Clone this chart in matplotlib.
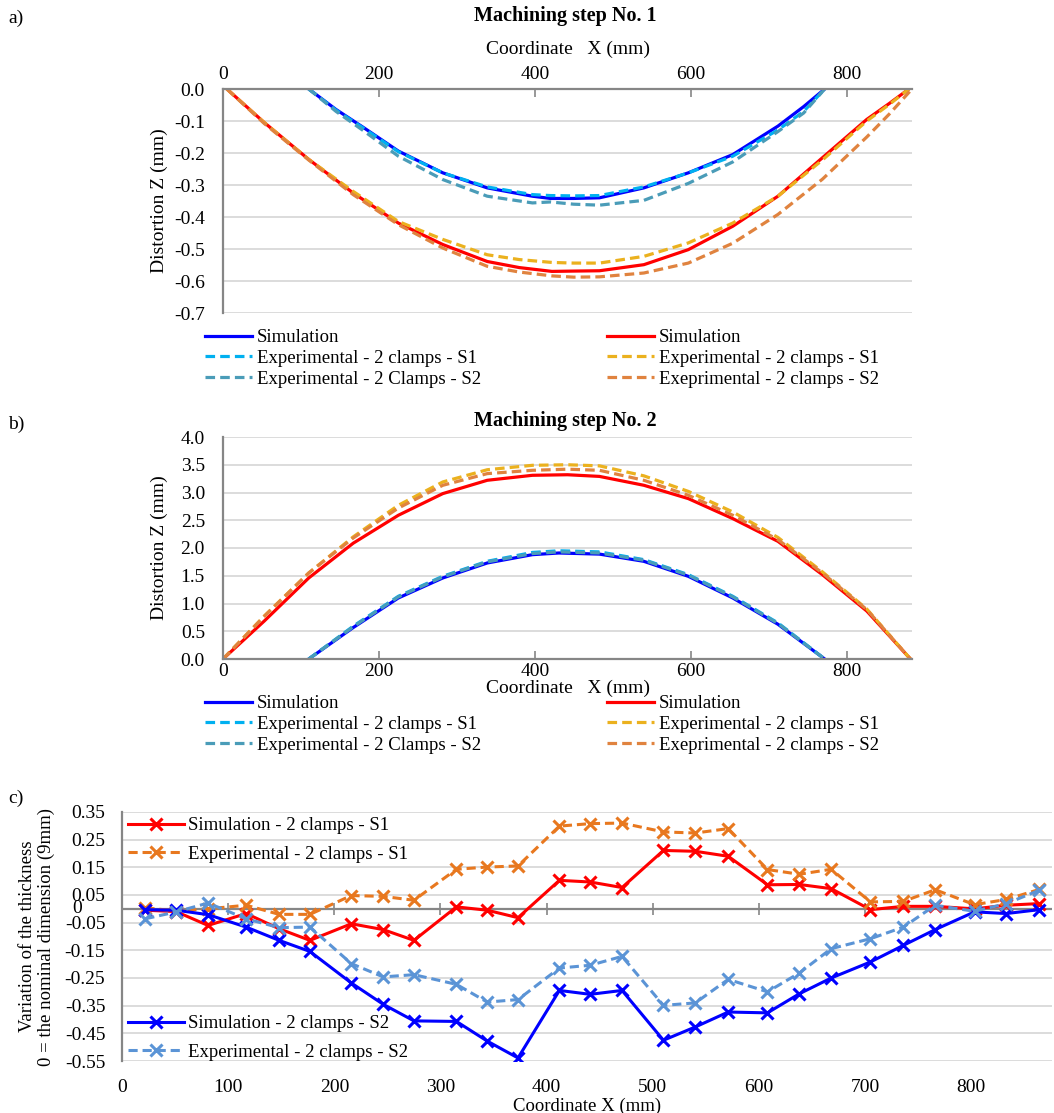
import numpy as np
import matplotlib
matplotlib.use("Agg")
import matplotlib.pyplot as plt

plt.rcParams['font.family'] = ['Liberation Serif', 'DejaVu Serif']
plt.rcParams['axes.unicode_minus'] = False

# ---------------- panel a : machining step 1 ----------------
a_x_blue = [110, 145, 180, 225, 282, 339, 397, 420, 450, 483, 540, 597, 654, 712, 745, 772]
a_sim_blue = [0, -0.064, -0.12, -0.194, -0.262, -0.309, -0.335, -0.342, -0.342, -0.340, -0.309, -0.262, -0.205, -0.116, -0.055, 0]
a_exp1_blue = [0, -0.066, -0.122, -0.196, -0.262, -0.306, -0.330, -0.333, -0.334, -0.333, -0.306, -0.262, -0.21, -0.128, -0.07, 0]
a_exp2_blue = [0, -0.07, -0.13, -0.21, -0.283, -0.335, -0.356, -0.353, -0.36, -0.363, -0.348, -0.295, -0.228, -0.133, -0.075, 0]

a_x_red = [5, 53, 110, 167, 225, 282, 339, 380, 422, 450, 483, 540, 597, 654, 712, 769, 826, 855, 880]
a_sim_red = [0, -0.105, -0.22, -0.325, -0.419, -0.486, -0.539, -0.558, -0.570, -0.569, -0.568, -0.549, -0.502, -0.429, -0.335, -0.215, -0.095, -0.045, 0]
a_exp1_red = [0, -0.105, -0.22, -0.32, -0.414, -0.47, -0.518, -0.533, -0.542, -0.544, -0.544, -0.523, -0.481, -0.419, -0.335, -0.222, -0.1, -0.048, 0]
a_x_exp2_red = [5, 53, 110, 167, 225, 282, 339, 380, 422, 450, 483, 540, 597, 654, 712, 769, 826, 855, 884]
a_exp2_red = [0, -0.108, -0.222, -0.33, -0.424, -0.497, -0.554, -0.572, -0.584, -0.588, -0.587, -0.575, -0.544, -0.482, -0.392, -0.282, -0.15, -0.078, 0]

# ---------------- panel b : machining step 2 ----------------
b_x_blue = [110, 167, 225, 282, 339, 397, 431, 483, 540, 597, 654, 712, 772]
b_sim_blue = [0, 0.566, 1.10, 1.46, 1.73, 1.88, 1.91, 1.89, 1.76, 1.49, 1.10, 0.626, 0]
b_exp1_blue = [0, 0.59, 1.13, 1.49, 1.76, 1.92, 1.95, 1.93, 1.79, 1.52, 1.13, 0.65, 0]
b_exp2_blue = [0, 0.58, 1.12, 1.48, 1.75, 1.90, 1.93, 1.91, 1.78, 1.51, 1.12, 0.64, 0]

b_x_red = [0, 53, 110, 167, 225, 282, 339, 397, 442, 483, 540, 597, 654, 712, 769, 826, 882]
b_sim_red = [0, 0.685, 1.46, 2.086, 2.59, 2.98, 3.22, 3.31, 3.32, 3.29, 3.13, 2.89, 2.53, 2.12, 1.52, 0.864, 0]
b_exp1_red = [0, 0.775, 1.55, 2.2, 2.77, 3.19, 3.41, 3.49, 3.50, 3.48, 3.30, 3.02, 2.65, 2.19, 1.57, 0.9, 0]
b_exp2_red = [0, 0.77, 1.55, 2.18, 2.72, 3.13, 3.34, 3.40, 3.42, 3.40, 3.22, 2.95, 2.59, 2.15, 1.55, 0.89, 0]

labels_blue = ['Simulation', 'Experimental - 2 clamps - S1', 'Experimental - 2 Clamps - S2']
labels_red = ['Simulation', 'Experimental - 2 clamps - S1', 'Exeprimental - 2 clamps - S2']

# ---------------- panel c : thickness ----------------
c_x = [22, 51, 81, 117, 148, 177, 216, 246, 275, 315, 344, 373, 412, 441, 471,
       510, 540, 571, 608, 638, 668, 705, 736, 766, 803, 833, 864]
c_sim_s1 = [-0.005, -0.01, -0.06, -0.017, -0.072, -0.114, -0.054, -0.075, -0.114, 0.007, -0.005, -0.032, 0.103,
            0.097, 0.077, 0.211, 0.208, 0.19, 0.087, 0.088, 0.073, -0.003, 0.009, 0.009, 0.0, 0.013, 0.019]
c_exp_s1 = [0.004, -0.008, 0.0, 0.013, -0.02, -0.02, 0.048, 0.045, 0.031, 0.143, 0.151, 0.155, 0.299,
            0.308, 0.31, 0.278, 0.274, 0.29, 0.142, 0.125, 0.143, 0.025, 0.027, 0.069, 0.015, 0.034, 0.07]
c_sim_s2 = [-0.003, -0.005, -0.021, -0.066, -0.114, -0.154, -0.268, -0.345, -0.405, -0.407, -0.478, -0.539, -0.295,
            -0.309, -0.295, -0.475, -0.427, -0.373, -0.376, -0.307, -0.25, -0.192, -0.132, -0.075, -0.011, -0.017, -0.003]
c_exp_s2 = [-0.036, -0.011, 0.021, -0.036, -0.068, -0.066, -0.198, -0.246, -0.238, -0.273, -0.337, -0.328, -0.214,
            -0.204, -0.172, -0.349, -0.34, -0.255, -0.3, -0.232, -0.144, -0.108, -0.066, 0.013, -0.009, 0.019, 0.067]
c_labels = ['Simulation - 2 clamps - S1', 'Experimental - 2 clamps - S1',
            'Simulation - 2 clamps - S2', 'Experimental - 2 clamps - S2']

W, H = 1054, 1113
fig = plt.figure(figsize=(W / 100, H / 100), dpi=100)

def box(l, t, r, b):
    return [l / W, 1 - b / H, (r - l) / W, (b - t) / H]

axis_col = '#868686'
grid_col = '#D9D9D9'
fs = 14
fsl = 13.5
dash = (0, (3, 1.6))

def style_ab(ax, top):
    for s in ax.spines.values():
        s.set_visible(False)
    side = 'top' if top else 'bottom'
    ax.spines['left'].set_visible(True)
    ax.spines[side].set_visible(True)
    ax.spines['left'].set_color(axis_col)
    ax.spines[side].set_color(axis_col)
    ax.spines['left'].set_linewidth(1.6)
    ax.spines[side].set_linewidth(1.6)
    ax.yaxis.grid(True, color=grid_col, linewidth=1.3)
    ax.set_axisbelow(True)
    ax.tick_params(axis='y', length=0, labelsize=fs, pad=13)
    if top:
        ax.xaxis.tick_top()
        ax.xaxis.set_label_position('top')
    ax.tick_params(axis='x', direction='in', length=6, width=1.2, color=axis_col,
                   labelsize=fs, pad=4 if top else 3)
    ax.set_xticks([0, 200, 400, 600, 800])
    ax.set_xlim(0, 884)
    ax.yaxis.set_label_coords(-0.08, 0.5)

# panel a
ax1 = fig.add_axes(box(223, 89, 912, 313))
style_ab(ax1, True)
ha = []
ha += ax1.plot(a_x_blue, a_sim_blue, color='#0000FF', lw=2.3)
ha += ax1.plot(a_x_blue, a_exp1_blue, color='#00B0F0', lw=2.3, ls=dash)
ha += ax1.plot(a_x_blue, a_exp2_blue, color='#4A9CB8', lw=2.3, ls=dash)
hb = []
hb += ax1.plot(a_x_red, a_sim_red, color='#FF0000', lw=2.3)
hb += ax1.plot(a_x_red, a_exp1_red, color='#EBB11E', lw=2.3, ls=dash)
hb += ax1.plot(a_x_exp2_red, a_exp2_red, color='#E0833F', lw=2.3, ls=dash)
ax1.set_ylim(-0.7, 0.0)
ax1.set_yticks(np.arange(-0.7, 0.01, 0.1))
ax1.set_yticklabels(['%.1f' % v if abs(v) > 1e-9 else '0.0' for v in np.arange(-0.7, 0.01, 0.1)])
ax1.set_ylabel('Distortion Z (mm)', fontsize=fs)
ax1.set_xlabel('Coordinate   X (mm)', fontsize=fs, labelpad=9)
fig.text(565 / W, 1 - 16 / H, 'Machining step No. 1', fontsize=14.5, fontweight='bold',
         ha='center', va='center')

leg_kw = dict(frameon=False, fontsize=fsl, handlelength=2.5, handletextpad=0.25,
              labelspacing=0.2, borderaxespad=0, borderpad=0)
fig.legend(ha, labels_blue, loc='upper left', bbox_to_anchor=(205 / W, 1 - 329 / H), **leg_kw)
fig.legend(hb, labels_red, loc='upper left', bbox_to_anchor=(607 / W, 1 - 329 / H), **leg_kw)

# panel b
ax2 = fig.add_axes(box(223, 437, 912, 659))
style_ab(ax2, False)
ha = []
ha += ax2.plot(b_x_blue, b_sim_blue, color='#0000FF', lw=2.3)
ha += ax2.plot(b_x_blue, b_exp1_blue, color='#00B0F0', lw=2.3, ls=dash)
ha += ax2.plot(b_x_blue, b_exp2_blue, color='#4A9CB8', lw=2.3, ls=dash)
hb = []
hb += ax2.plot(b_x_red, b_sim_red, color='#FF0000', lw=2.3)
hb += ax2.plot(b_x_red, b_exp1_red, color='#EBB11E', lw=2.3, ls=dash)
hb += ax2.plot(b_x_red, b_exp2_red, color='#E0833F', lw=2.3, ls=dash)
ax2.set_ylim(0, 4.0)
ax2.set_yticks(np.arange(0, 4.01, 0.5))
ax2.set_yticklabels(['%.1f' % v for v in np.arange(0, 4.01, 0.5)])
ax2.set_ylabel('Distortion Z (mm)', fontsize=fs)
ax2.set_xlabel('Coordinate   X (mm)', fontsize=fs, labelpad=0)
fig.text(565 / W, 1 - 421 / H, 'Machining step No. 2', fontsize=14.5, fontweight='bold',
         ha='center', va='center')
fig.legend(ha, labels_blue, loc='upper left', bbox_to_anchor=(205 / W, 1 - 695 / H), **leg_kw)
fig.legend(hb, labels_red, loc='upper left', bbox_to_anchor=(607 / W, 1 - 695 / H), **leg_kw)

# panel c
ax3 = fig.add_axes(box(122, 812, 1052, 1061))
for s in ax3.spines.values():
    s.set_visible(False)
ax3.spines['left'].set_visible(True)
ax3.spines['left'].set_color(axis_col)
ax3.spines['left'].set_linewidth(1.6)
ax3.set_xlim(0, 876)
ax3.set_ylim(-0.55, 0.35)
yt = list(np.round(np.arange(-0.55, 0.351, 0.1), 2))
ax3.set_yticks(yt)
ax3.set_yticklabels(['%.2f' % v for v in yt])
ax3.text(-40 / 930, 0, '0', transform=ax3.get_yaxis_transform(), fontsize=fs,
         ha='right', va='center')
ax3.yaxis.grid(True, color=grid_col, linewidth=1.3)
ax3.set_axisbelow(True)
ax3.tick_params(axis='y', length=0, labelsize=fs, pad=12)
ax3.set_xticks(np.arange(0, 801, 100))
ax3.tick_params(axis='x', length=0, labelsize=fs, pad=13)
ax3.axhline(0, color=axis_col, lw=1.6, zorder=1.5)
zpos = 0.55 / 0.9
sec = ax3.secondary_xaxis(zpos)
sec.set_xticks(np.arange(100, 801, 100))
sec.set_xticklabels([])
sec.tick_params(direction='inout', length=9, width=1.2, color=axis_col)
for s in sec.spines.values():
    s.set_visible(False)

mk = dict(marker='x', markersize=8, markeredgewidth=2.2)
h1, = ax3.plot(c_x, c_sim_s1, color='#FF0000', lw=2.2, **mk)
h2, = ax3.plot(c_x, c_exp_s1, color='#E8781F', lw=2.2, ls=(0, (3, 1.6)), **mk)
h3, = ax3.plot(c_x, c_sim_s2, color='#0000FF', lw=2.2, **mk)
h4, = ax3.plot(c_x, c_exp_s2, color='#5B94D6', lw=2.2, ls=(0, (3, 1.6)), **mk)
ax3.set_xlabel('Coordinate X (mm)', fontsize=fsl, labelpad=1)
ax3.set_ylabel('Variation of the thickness\n0 = the nominal dimension (9mm)', fontsize=fsl,
               linespacing=1.1)
ax3.yaxis.set_label_coords(-0.072, 0.5)
leg_c = dict(frameon=False, fontsize=fsl, handlelength=3.0, handletextpad=0.2,
             labelspacing=0.62, borderaxespad=0, borderpad=0)
l1 = ax3.legend([h1, h2], c_labels[:2], loc='upper left', bbox_to_anchor=(128 / W, 1 - 817 / H),
                bbox_transform=fig.transFigure, **leg_c)
ax3.add_artist(l1)
ax3.legend([h3, h4], c_labels[2:], loc='upper left', bbox_to_anchor=(128 / W, 1 - 1015 / H),
           bbox_transform=fig.transFigure, **leg_c)

fig.text(8 / W, 1 - 18 / H, 'a)', fontsize=fs, va='center')
fig.text(8 / W, 1 - 424 / H, 'b)', fontsize=fs, va='center')
fig.text(8 / W, 1 - 798 / H, 'c)', fontsize=fs, va='center')

plt.savefig('out.png', dpi=100)
